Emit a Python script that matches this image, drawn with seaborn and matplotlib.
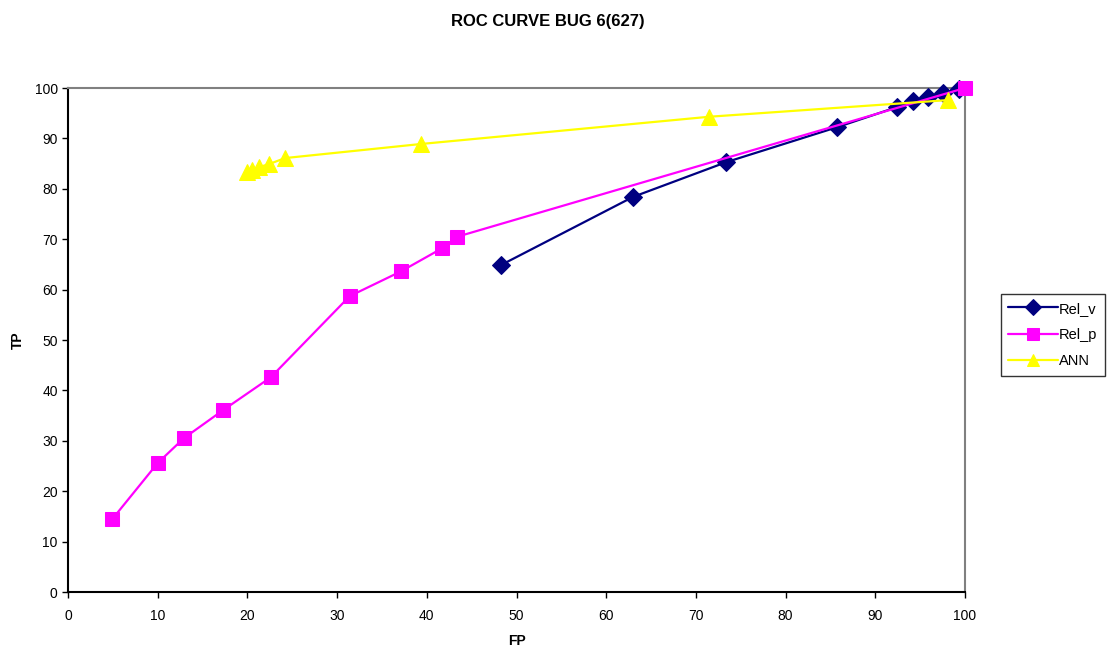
import matplotlib
matplotlib.use("Agg")
from matplotlib import pyplot as plt
import pandas as pd
import seaborn as sb

# values
rel_v_fp = [48.3, 63.0, 73.4, 85.7, 92.4, 94.2, 95.9, 97.5, 99.3]
rel_v_tp = [64.9, 78.4, 85.3, 92.2, 96.2, 97.4, 98.2, 99.0, 99.8]

rel_p_fp = [4.9, 10.0, 12.9, 17.3, 22.6, 31.4, 37.1, 41.7, 43.4, 100.0]
rel_p_tp = [14.4, 25.6, 30.5, 36.1, 42.6, 58.7, 63.6, 68.2, 70.5, 100.0]

ann_fp = [20.0, 20.5, 21.3, 22.4, 24.2, 39.4, 71.5, 98.1]
ann_tp = [83.3, 83.7, 84.3, 84.9, 86.1, 88.9, 94.3, 97.6]

series = [
    ("Rel_v", rel_v_fp, rel_v_tp, "#000080", "D", 9),
    ("Rel_p", rel_p_fp, rel_p_tp, "#FF00FF", "s", 10.5),
    ("ANN", ann_fp, ann_tp, "#FFFF00", "^", 11),
]

sb.set_style("white")
plt.rcParams["font.family"] = ["Liberation Sans", "DejaVu Sans"]
plt.rcParams["text.color"] = "black"
plt.rcParams["axes.labelcolor"] = "black"
plt.rcParams["xtick.color"] = "black"
plt.rcParams["ytick.color"] = "black"

fig = plt.figure(figsize=(11.12, 6.49), dpi=100)
ax = fig.add_axes([0.0612, 0.0878, 0.8066, 0.7766])

for name, fp, tp, color, marker, ms in series:
    df = pd.DataFrame({"FP": fp, "TP": tp})
    sb.lineplot(data=df, x="FP", y="TP", sort=False, estimator=None, ax=ax,
                color=color, marker=marker, markersize=ms, markeredgecolor=color,
                linewidth=1.6, label=name, clip_on=False, zorder=3)

ax.set_xlim(0, 100)
ax.set_ylim(0, 100)
ax.set_xticks(range(0, 101, 10))
ax.set_yticks(range(0, 101, 10))
ax.tick_params(axis="both", direction="out", length=4, width=1, labelsize=10,
               bottom=True, left=True, color="black")
ax.tick_params(axis="x", pad=8)

for side in ["left", "bottom"]:
    ax.spines[side].set_color("black")
    ax.spines[side].set_linewidth(1.5)
for side in ["top", "right"]:
    ax.spines[side].set_color("#808080")
    ax.spines[side].set_linewidth(1.5)

ax.set_xlabel("FP", fontsize=10, fontweight="bold", labelpad=8)
ax.set_ylabel("TP", fontsize=10, fontweight="bold", labelpad=7)
fig.suptitle("ROC CURVE BUG 6(627)", fontsize=12, fontweight="bold", x=0.493, y=0.978)

leg = ax.legend(loc="center left", bbox_to_anchor=(1.04, 0.51), frameon=True,
                fancybox=False, fontsize=10.5, handlelength=3.4, borderpad=0.5,
                labelspacing=0.85, handletextpad=0.1, borderaxespad=0)
leg.get_frame().set_edgecolor("black")
leg.get_frame().set_linewidth(1)
for h in leg.legend_handles:
    h.set_markersize(8)

plt.savefig("out.png", dpi=100)
plt.close("all")
